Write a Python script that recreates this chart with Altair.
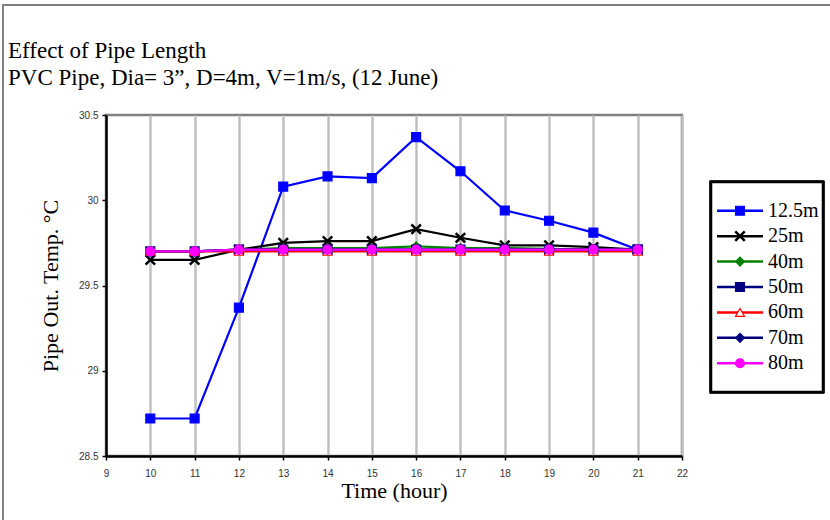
import altair as alt
import pandas as pd

hours = [10, 11, 12, 13, 14, 15, 16, 17, 18, 19, 20, 21]
series_names = ["12.5m", "25m", "40m", "50m", "60m", "70m", "80m"]
s125 = [28.72, 28.72, 29.37, 30.08, 30.14, 30.13, 30.37, 30.17, 29.94, 29.88, 29.81, 29.71]
s25 = [29.65, 29.65, 29.71, 29.75, 29.76, 29.76, 29.83, 29.78, 29.735, 29.735, 29.725, 29.71]
s40 = [29.70, 29.70, 29.71, 29.72, 29.72, 29.72, 29.73, 29.72, 29.72, 29.715, 29.71, 29.71]
s50 = [29.70, 29.70, 29.71, 29.71, 29.71, 29.71, 29.71, 29.71, 29.71, 29.71, 29.71, 29.71]
s60 = [29.70, 29.70, 29.70, 29.70, 29.70, 29.70, 29.70, 29.70, 29.70, 29.70, 29.70, 29.70]
s70 = [29.70, 29.70, 29.71, 29.71, 29.71, 29.71, 29.71, 29.71, 29.71, 29.71, 29.71, 29.71]
s80 = [29.70, 29.70, 29.71, 29.71, 29.71, 29.71, 29.71, 29.71, 29.71, 29.71, 29.71, 29.71]
all_series = [s125, s25, s40, s50, s60, s70, s80]

title_lines = ["Effect of Pipe Length", "PVC Pipe, Dia= 3\u201d, D=4m, V=1m/s, (12 June)"]

colors = ["#0000FF", "#000000", "#008000", "#000080", "#FF0000", "#000080", "#FF00FF"]
fills = ["#0000FF", "#000000", "#008000", "#000080", "#FFFFFF", "#000080", "#FF00FF"]
X_PATH = "M-1,-1L1,1M-1,1L1,-1"
shapes = ["square", X_PATH, "diamond", "square", "triangle-up", "diamond", "circle"]

rows = []
for name, vals in zip(series_names, all_series):
    for h, v in zip(hours, vals):
        rows.append({"hour": h, "temp": v, "series": name, "order": series_names.index(name)})
df = pd.DataFrame(rows)
legend_df = pd.DataFrame({"series": series_names, "order": list(range(len(series_names)))})
title_df = pd.DataFrame({"line": title_lines, "idx": [0, 1]})

SERIF = "Liberation Serif"
TICKF = "Liberation Sans Narrow, Liberation Sans, Arial"

color_scale = alt.Scale(domain=series_names, range=colors)
fill_scale = alt.Scale(domain=series_names, range=fills)
shape_scale = alt.Scale(domain=series_names, range=shapes)

x_enc = alt.X("hour:Q", scale=alt.Scale(domain=[9, 22], nice=False),
              axis=alt.Axis(values=list(range(9, 23)), title="Time (hour)", titleFont=SERIF,
                            titleFontSize=22, titleFontWeight="normal", titleColor="#000",
                            titlePadding=2, labelFont=TICKF, labelFontSize=10,
                            labelColor="#333", labelPadding=8, tickColor="#000",
                            tickSize=4, tickWidth=1.5, domainColor="#000", domainWidth=2.5,
                            gridColor="#C0C0C0", gridWidth=2.5, labelFlush=False))
y_enc = alt.Y("temp:Q", scale=alt.Scale(domain=[28.5, 30.5], nice=False, zero=False),
              axis=alt.Axis(values=[28.5, 29, 29.5, 30, 30.5], format="~g",
                            title="Pipe Out. Temp. °C", titleFont=SERIF, titleFontSize=22,
                            titleFontWeight="normal", titleColor="#000", titlePadding=16,
                            labelFont=TICKF, labelFontSize=10, labelColor="#333",
                            labelPadding=4, tickColor="#000", tickSize=4, tickWidth=1.5,
                            domainColor="#000", domainWidth=2.5, gridColor="#C0C0C0",
                            gridWidth=2.5, labelFlush=False))

frame = alt.Chart(legend_df).mark_rect(fill=None, stroke="#808080", strokeWidth=2, clip=False).encode(
    x=alt.value(-103), x2=alt.value(740), y=alt.value(-110), y2=alt.value(430))

title_text = alt.Chart(title_df).mark_text(align="left", baseline="alphabetic", font=SERIF,
                                           fontSize=23, color="#000", clip=False).encode(
    x=alt.value(-98),
    y=alt.Y("idx:O", scale=alt.Scale(range=[-57, -30], padding=0), axis=None),
    text="line:N")

lines = alt.Chart(df).mark_line(strokeWidth=2.2).encode(
    x=x_enc, y=y_enc,
    color=alt.Color("series:N", scale=color_scale, legend=None),
    detail="series:N",
    order=alt.Order("hour:Q"),
)

pts_x = alt.Chart(df).transform_filter(alt.datum.series == "25m").mark_point(
    shape=X_PATH, size=90, strokeWidth=2.5, stroke="#000", fill=None, opacity=1).encode(
    x="hour:Q", y="temp:Q")

pts = alt.Chart(df).transform_filter(alt.datum.series != "25m").mark_point(
    filled=True, size=80, strokeWidth=1.2, opacity=1).encode(
    x="hour:Q", y="temp:Q",
    fill=alt.Fill("series:N", scale=fill_scale, legend=None),
    stroke=alt.Stroke("series:N", scale=color_scale, legend=None),
    shape=alt.Shape("series:N", scale=shape_scale, legend=None),
    order=alt.Order("order:Q"),
)

main = alt.layer(lines, pts_x, pts)

ly = alt.Y("series:N", sort=series_names, scale=alt.Scale(range=[83, 261], padding=0), axis=None)

leg_box = alt.Chart(legend_df).mark_rect(fill="white", stroke="#000", strokeWidth=2.5, clip=False).encode(
    x=alt.value(605), x2=alt.value(717), y=alt.value(67), y2=alt.value(277))
leg_lines = alt.Chart(legend_df).mark_rule(strokeWidth=2.5, clip=False).encode(
    x=alt.value(611), x2=alt.value(657), y=ly,
    color=alt.Color("series:N", scale=color_scale, legend=None))
leg_x = alt.Chart(legend_df).transform_filter(alt.datum.series == "25m").mark_point(
    shape=X_PATH, size=90, strokeWidth=2.5, stroke="#000", fill=None, opacity=1, clip=False).encode(
    x=alt.value(634), y=ly)
leg_pts = alt.Chart(legend_df).transform_filter(alt.datum.series != "25m").mark_point(
    filled=True, size=80, strokeWidth=1.2, opacity=1, clip=False).encode(
    x=alt.value(634), y=ly,
    fill=alt.Fill("series:N", scale=fill_scale, legend=None),
    stroke=alt.Stroke("series:N", scale=color_scale, legend=None),
    shape=alt.Shape("series:N", scale=shape_scale, legend=None))
leg_text = alt.Chart(legend_df).mark_text(align="left", baseline="middle", font=SERIF,
                                          fontSize=20, color="#000", clip=False).encode(
    x=alt.value(662), y=ly, text="series:N")

legend = alt.layer(leg_box, leg_lines, leg_x, leg_pts, leg_text)

chart = alt.layer(frame, title_text, main, legend).resolve_scale(y="independent").properties(
    width=576, height=341,
    autosize=alt.AutoSizeParams(type="none"),
    padding={"left": 106, "top": 115, "right": 148, "bottom": 64},
    background="white",
).configure_view(stroke="#808080", strokeWidth=2.5)

chart.save("out.html", embed_options={"renderer": "svg", "actions": False})
